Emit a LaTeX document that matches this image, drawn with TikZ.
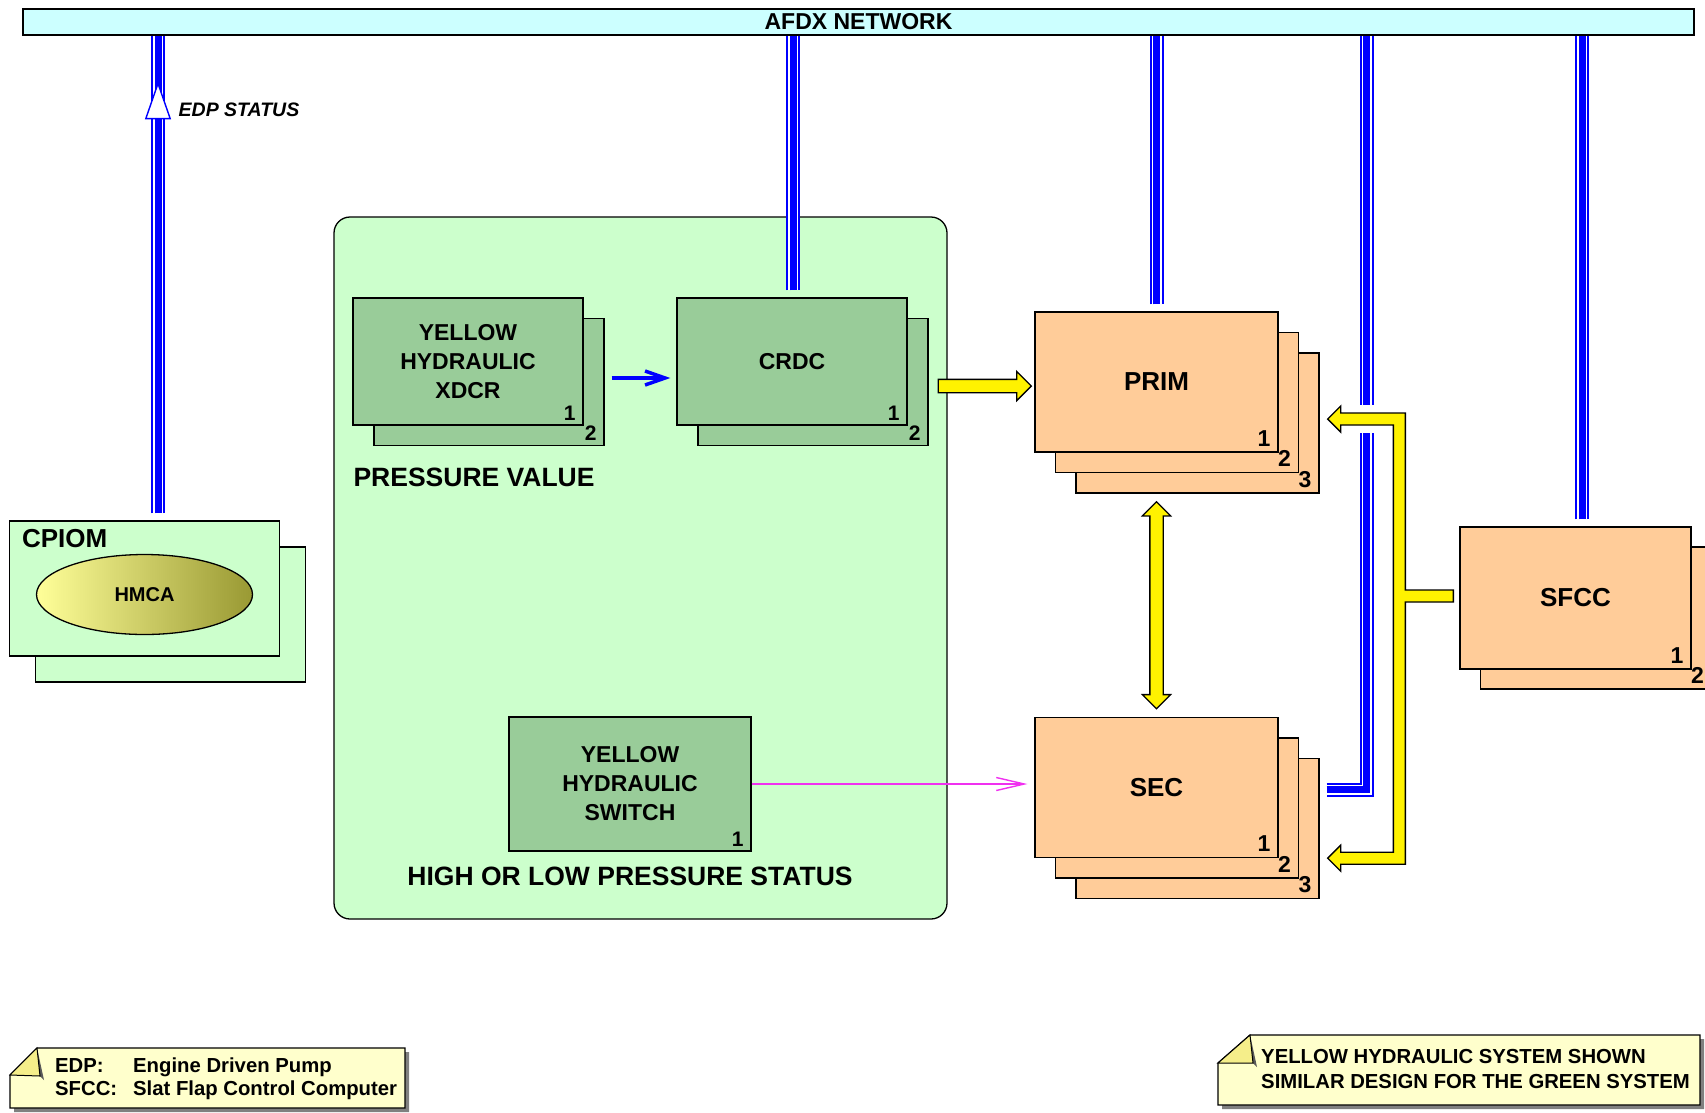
\documentclass[tikz,border=0pt]{standalone}
\usepackage{fontspec}
\setmainfont{Liberation Sans}
\usetikzlibrary{arrows.meta,positioning,calc,shapes.geometric,shapes.arrows}

\definecolor{netcyan}{HTML}{CCFFFF}
\definecolor{panelgreen}{HTML}{CCFFCC}
\definecolor{unitgreen}{HTML}{99CC99}
\definecolor{unitorange}{HTML}{FFCC99}
\definecolor{hmcalight}{HTML}{FFFF99}
\definecolor{hmcadark}{HTML}{999933}
\definecolor{notefill}{HTML}{FFFFCC}
\definecolor{foldfill}{HTML}{F5EE8A}
\definecolor{sigpink}{HTML}{F030F0}
\newcommand{\boldsz}[2]{\fontsize{#1pt}{#2pt}\selectfont\bfseries}

\begin{document}
\begin{tikzpicture}[x=1pt,y=-1pt,
  box/.style={draw,line width=1.3pt,align=center,inner sep=0pt},
  gbox/.style={box,fill=unitgreen,minimum width=230pt,minimum height=127pt,font=\boldsz{23}{29}},
  obox/.style={box,fill=unitorange,minimum width=243pt,minimum height=140pt,font=\boldsz{26}{30}},
  cbox/.style={box,fill=panelgreen,minimum width=270pt,minimum height=135pt},
  num/.style={anchor=south east,inner xsep=8pt,inner ysep=5pt,font=\boldsz{21}{21}},
  onum/.style={num,inner ysep=6pt,font=\boldsz{23}{23}},
  caption/.style={inner sep=0pt,font=\boldsz{26.5}{30}},
  bus/.style={draw=blue,line width=14pt,postaction={draw=white,line width=10pt},
              postaction={draw=blue,line width=7pt}},
  fat/.style={draw,fill=yellow,line width=1.3pt,minimum width=28pt,inner xsep=0pt,inner ysep=6pt},
  note/.style={draw,line width=1.3pt,fill=notefill},
  notetext/.style={align=left,inner sep=0pt,font=\boldsz{20.3}{23}}]

\useasboundingbox (0,0) rectangle (1705,1112);

\node[box,fill=netcyan,minimum width=1671pt,minimum height=26pt,font=\boldsz{23}{23}] (afdx) at (858.5,22) {AFDX NETWORK};
\node[box,fill=panelgreen,rounded corners=16pt,minimum width=613pt,minimum height=702pt] (panel) at (640.5,568) {};

% CPIOM
\node[cbox] (cpiom2) at (170.5,614.5) {};
\node[cbox] (cpiom) at (144.5,588.5) {};
\node[anchor=north west,inner sep=0pt,font=\boldsz{26}{26}] (cpiomlabel) at ($(cpiom.north west)+(13,9)$) {CPIOM};
\node[draw,ellipse,line width=1.3pt,left color=hmcalight,right color=hmcadark,minimum width=216pt,
  minimum height=80pt,font=\boldsz{20}{20}] (hmca) at ($(cpiom.center)+(0,6)$) {HMCA};

% sensors and CRDC
\foreach \u/\c in {xdcr/489,crdc/813} {
  \node[gbox] (\u2) at (\c,382) {};
  \node[num] at (\u2.south east) {2};
}
\node[gbox] (xdcr) at ($(xdcr2)+(-21,-20.5)$) {YELLOW\\HYDRAULIC\\XDCR};
\node[num] at (xdcr.south east) {1};
\node[gbox] (crdc) at ($(crdc2)+(-21,-20.5)$) {CRDC};
\node[num] at (crdc.south east) {1};
\node[gbox,minimum width=242pt,minimum height=134pt] (sw) at (630,784) {YELLOW\\HYDRAULIC\\SWITCH};
\node[num] at (sw.south east) {1};

\node[caption,anchor=north west] (pvalue) at ($(xdcr.west |- xdcr2.south)+(1,22)$) {PRESSURE VALUE};
\node[caption,below=15pt of sw] (pstatus) {HIGH OR LOW PRESSURE STATUS};

% flight control computers
\foreach \u/\y in {prim/382,sec/787.5}
  \foreach \i in {3,2} {
    \node[obox] (\u\i) at ({1156.5+20.5*(\i-1)},{\y+20.5*(\i-1)}) {};
    \node[onum] at (\u\i.south east) {\i};
  }
\node[obox] (prim) at (1156.5,382) {PRIM};
\node[onum] at (prim.south east) {1};
\node[obox] (sec) at (1156.5,787.5) {SEC};
\node[onum] at (sec.south east) {1};

\node[obox,minimum width=231pt,minimum height=142pt] (sfcc2) at (1596,618) {};
\node[onum] at (sfcc2.south east) {2};
\node[obox,minimum width=231pt,minimum height=142pt] (sfcc) at (1575.5,598) {SFCC};
\node[onum] at (sfcc.south east) {1};

% AFDX links
\foreach \n/\dx in {cpiom/13.5,crdc/1,prim/0,sfcc/6.5} {
  \coordinate (drop) at ($(\n.north)+(\dx,-7)$);
  \draw[bus] (drop) -- (drop |- afdx.south);
}
\coordinate (secout) at ($(sec3.east |- sec.east)+(7,2)$);
\coordinate (secturn) at ($(secout)+(40,0)$);
\draw[bus] (secout) -- (secturn) -- (secturn |- afdx.south);

\coordinate (edptip) at ($(cpiom.north)+(13.5,-439)$);
\draw[blue,line width=1.4pt,-{Triangle[fill=white,length=38pt,width=26pt]}] ($(edptip)+(0,40)$) -- (edptip)
  node[pos=0.3,right=20pt,inner sep=0pt,text=black,font=\boldsz{19.5}{20}\itshape] (edplabel) {EDP STATUS};

% signals
\draw[blue,line width=3.5pt,-{Straight Barb[length=20pt,width=14pt]}] ($(xdcr2.east)+(7,-4)$) -- ($(crdc.west |- xdcr2.east)+(-6,-4)$);
\draw[sigpink,line width=1.4pt,-{Straight Barb[length=28pt,width=13pt]}] (sw.east) -- ($(sec.west |- sw.east)+(-7,0)$);

\node[fat,single arrow,single arrow head extend=8pt,minimum height=93pt] (feed) at ($(crdc2.east)!0.5!(prim.west)+(0,4)$) {};
\node[fat,double arrow,double arrow head extend=7.5pt,minimum height=207pt,rotate=90] (link)
  at ($(prim.south |- prim3.south)!0.5!(sec.north)$) {};

% SFCC to PRIM / SEC
\coordinate (ytop) at ($(prim3.east)+(8,-4)$);
\coordinate (ybot) at ($(sec3.east |- sec.south)+(8,0)$);
\coordinate (ystub) at ($(sfcc.west)+(-6,-2)$);
\coordinate (yv) at ($(ystub)+(-54,0)$);
\fill[white] ($(secturn |- ytop)+(-10,-14)$) rectangle ($(secturn |- ytop)+(10,14)$);
\draw[fill=yellow,line width=1.3pt] (ytop) -- ++(13,-13) -- ++(0,7) -- ($(yv |- ytop)+(6,-6)$)
  -- ($(yv |- ystub)+(6,-6)$) -- ($(ystub)+(0,-6)$) -- ($(ystub)+(0,6)$) -- ($(yv |- ystub)+(6,6)$)
  -- ($(yv |- ybot)+(6,6)$) -- ($(ybot)+(13,6)$) -- ++(0,7) -- (ybot) -- ++(13,-13) -- ++(0,7)
  -- ($(yv |- ybot)+(-6,-6)$) -- ($(yv |- ytop)+(-6,6)$) -- ($(ytop)+(13,6)$) -- ++(0,7) -- cycle;

% notes
\fill[gray] (41,1052) -- (409,1052) -- (409,1112) -- (14,1112) -- (14,1079) -- cycle;
\draw[note] (37,1048) -- (405,1048) -- (405,1108) -- (10,1108) -- (10,1075) -- cycle;
\fill[gray!70!black] (37,1048) -- (44,1080) -- (40,1076) -- cycle;
\draw[line width=1pt,fill=foldfill] (37,1048) -- (10,1075) -- (40,1076) -- cycle;
\node[notetext,anchor=west] (abbr) at (55,1079)
  {\makebox[78pt][l]{EDP:}Engine Driven Pump\\\makebox[78pt][l]{SFCC:}Slat Flap Control Computer};

\fill[gray] (1254,1039) -- (1704,1039) -- (1704,1109) -- (1222,1109) -- (1222,1067) -- cycle;
\draw[note] (1250,1035) -- (1700,1035) -- (1700,1105) -- (1218,1105) -- (1218,1063) -- cycle;
\fill[gray!70!black] (1250,1035) -- (1257,1067) -- (1253,1063) -- cycle;
\draw[line width=1pt,fill=foldfill] (1250,1035) -- (1218,1063) -- (1253,1063) -- cycle;
\node[notetext,anchor=west,font=\boldsz{20.3}{25}] (shown) at (1261,1069)
  {YELLOW HYDRAULIC SYSTEM SHOWN\\SIMILAR DESIGN FOR THE GREEN SYSTEM};
\end{tikzpicture}
\end{document}
